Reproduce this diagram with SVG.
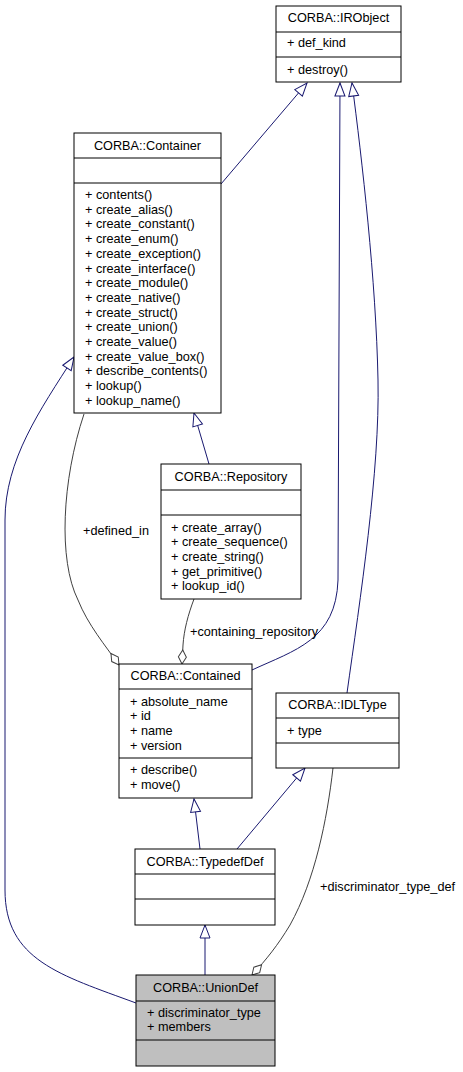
<svg xmlns="http://www.w3.org/2000/svg" width="463" height="1072" viewBox="0 0 463 1072">
<style>
text{font-family:"Liberation Sans",Arial,sans-serif;font-size:12.7px;fill:#000}
.t{text-anchor:middle}
.box{fill:#fff;stroke:#000;stroke-width:1}
.cur{fill:#bfbfbf}
.sep{stroke:#000;stroke-width:1}
.inh{fill:none;stroke:#191970;stroke-width:1}
.agg{fill:none;stroke:#404040;stroke-width:1}
</style>
<defs>
<marker id="tri" markerUnits="userSpaceOnUse" markerWidth="16" markerHeight="12" refX="14" refY="6" orient="auto" overflow="visible">
<path d="M1,1 L14,6 L1,11 Z" fill="#fff" stroke="#191970" stroke-width="1"/>
</marker>
<marker id="dia" markerUnits="userSpaceOnUse" markerWidth="16" markerHeight="10" refX="15" refY="5" orient="auto" overflow="visible">
<path d="M1,5 L8,1 L15,5 L8,9 Z" fill="#fff" stroke="#404040" stroke-width="1"/>
</marker>
</defs>
<rect width="463" height="1072" fill="#fff"/>
<g id="connectors">
<path class="inh" d="M221,184 L307,83" marker-end="url(#tri)"/>
<path class="inh" d="M252,670 C295,650 336,640 338,580 L340,83" marker-end="url(#tri)"/>
<path class="inh" d="M347,693 C360,600 380,470 378,380 C376,280 362,160 352,83" marker-end="url(#tri)"/>
<path class="inh" d="M209,464 L194,413" marker-end="url(#tri)"/>
<path class="inh" d="M200,849 L194,799" marker-end="url(#tri)"/>
<path class="inh" d="M237,849 L305,768" marker-end="url(#tri)"/>
<path class="inh" d="M205,975 L205,925" marker-end="url(#tri)"/>
<path class="inh" d="M136,1003 C60,975 5,960 5,890 L5,520 C5,460 40,410 74,357" marker-end="url(#tri)"/>
<path class="agg" d="M84,414 C62,480 58,560 78,600 C88,625 105,645 119,665" marker-end="url(#dia)"/>
<path class="agg" d="M194,599 C188,615 184,630 183,645 L182,664" marker-end="url(#dia)"/>
<path class="agg" d="M333,768 C327,820 315,880 290,925 C278,945 266,960 252,975" marker-end="url(#dia)"/>
<text x="83" y="535">+defined_in</text>
<text x="190" y="635.5">+containing_repository</text>
<text x="320" y="890.5">+discriminator_type_def</text>
</g>
<g id="IRObject">
<rect class="box" x="276" y="6" width="125" height="76"/>
<line class="sep" x1="276" y1="32" x2="401" y2="32"/>
<line class="sep" x1="276" y1="57" x2="401" y2="57"/>
<text class="t" x="338.5" y="22">CORBA::IRObject</text>
<text x="287" y="47">+ def_kind</text>
<text x="287" y="74">+ destroy()</text>
</g>
<g id="Container">
<rect class="box" x="74" y="133" width="147" height="280"/>
<line class="sep" x1="74" y1="158" x2="221" y2="158"/>
<line class="sep" x1="74" y1="183" x2="221" y2="183"/>
<text class="t" x="147.5" y="149.5">CORBA::Container</text>
<text x="85" y="199">+ contents()</text>
<text x="85" y="213.7">+ create_alias()</text>
<text x="85" y="228.4">+ create_constant()</text>
<text x="85" y="243.1">+ create_enum()</text>
<text x="85" y="257.8">+ create_exception()</text>
<text x="85" y="272.5">+ create_interface()</text>
<text x="85" y="287.2">+ create_module()</text>
<text x="85" y="301.9">+ create_native()</text>
<text x="85" y="316.6">+ create_struct()</text>
<text x="85" y="331.3">+ create_union()</text>
<text x="85" y="346">+ create_value()</text>
<text x="85" y="360.7">+ create_value_box()</text>
<text x="85" y="375.4">+ describe_contents()</text>
<text x="85" y="390.1">+ lookup()</text>
<text x="85" y="404.8">+ lookup_name()</text>
</g>
<g id="Repository">
<rect class="box" x="161" y="464" width="140" height="135"/>
<line class="sep" x1="161" y1="490" x2="301" y2="490"/>
<line class="sep" x1="161" y1="515" x2="301" y2="515"/>
<text class="t" x="231" y="481">CORBA::Repository</text>
<text x="171" y="531.5">+ create_array()</text>
<text x="171" y="546.2">+ create_sequence()</text>
<text x="171" y="560.9">+ create_string()</text>
<text x="171" y="575.6">+ get_primitive()</text>
<text x="171" y="590.3">+ lookup_id()</text>
</g>
<g id="Contained">
<rect class="box" x="119" y="664" width="133" height="134"/>
<line class="sep" x1="119" y1="689" x2="252" y2="689"/>
<line class="sep" x1="119" y1="758" x2="252" y2="758"/>
<text class="t" x="185.5" y="679.5">CORBA::Contained</text>
<text x="130" y="705.5">+ absolute_name</text>
<text x="130" y="720.2">+ id</text>
<text x="130" y="734.9">+ name</text>
<text x="130" y="749.6">+ version</text>
<text x="130" y="774">+ describe()</text>
<text x="130" y="788.7">+ move()</text>
</g>
<g id="IDLType">
<rect class="box" x="276" y="693" width="123" height="75"/>
<line class="sep" x1="276" y1="718" x2="399" y2="718"/>
<line class="sep" x1="276" y1="743" x2="399" y2="743"/>
<text class="t" x="337.5" y="709">CORBA::IDLType</text>
<text x="287" y="734.5">+ type</text>
</g>
<g id="TypedefDef">
<rect class="box" x="135" y="849" width="140" height="76"/>
<line class="sep" x1="135" y1="874" x2="275" y2="874"/>
<line class="sep" x1="135" y1="899" x2="275" y2="899"/>
<text class="t" x="205" y="865.5">CORBA::TypedefDef</text>
</g>
<g id="UnionDef">
<rect class="box cur" x="136" y="975" width="139" height="91"/>
<line class="sep" x1="136" y1="1001" x2="275" y2="1001"/>
<line class="sep" x1="136" y1="1040" x2="275" y2="1040"/>
<text class="t" x="205.5" y="991.5">CORBA::UnionDef</text>
<text x="147" y="1016.5">+ discriminator_type</text>
<text x="147" y="1031">+ members</text>
</g>
</svg>
